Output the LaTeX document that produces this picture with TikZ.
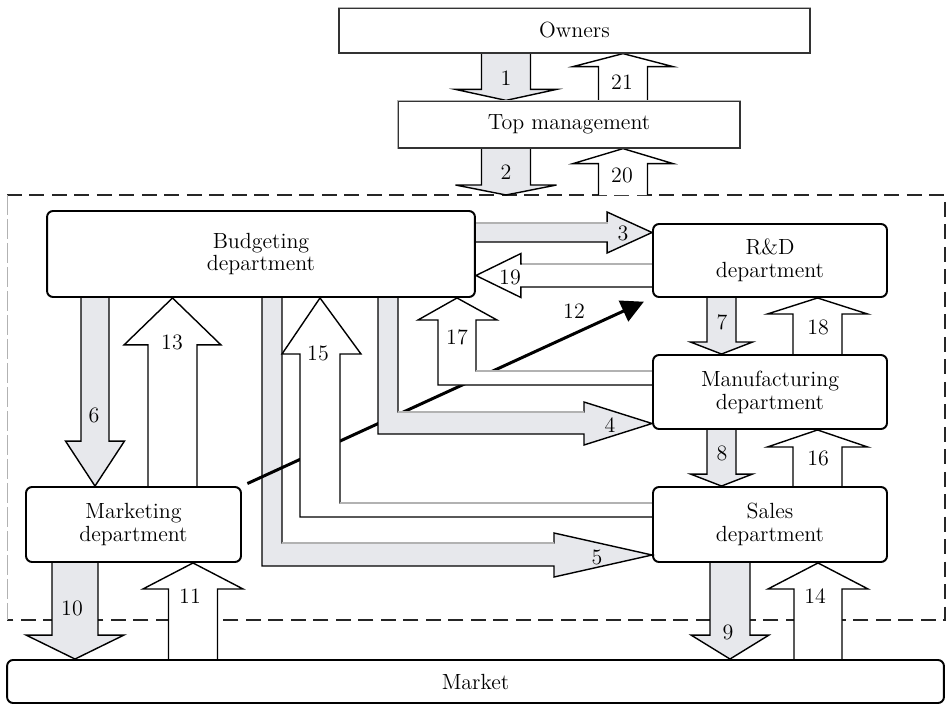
\documentclass[tikz,border=0pt]{standalone}
\usepackage{fontspec}
\usepackage{tikz}
\usetikzlibrary{calc, arrows.meta, positioning, backgrounds}

\definecolor{arrgray}{RGB}{231,232,236}
\newcommand{\diagfont}{\fontsize{12.5}{13}\selectfont}

\tikzstyle{plainbox} = [draw=black!80, line width=0.7pt, rectangle,
  inner sep=0pt, font=\diagfont]
\tikzstyle{deptbox} = [draw=black, line width=1.1pt, rectangle,
  rounded corners=1.2mm, align=center, inner sep=0pt, font=\diagfont]
\tikzstyle{downarr} = [draw=black, line width=0.8pt, fill=arrgray]
\tikzstyle{uparr} = [draw=black, line width=0.8pt, fill=white]
\tikzstyle{faint} = [draw=black!30, line width=0.8pt]
\tikzstyle{infoline} = [draw=black, line width=1.7pt,
  -{Triangle[length=0.45cm, width=0.45cm]}, shorten <=0.12cm, shorten >=0.18cm]
\tikzstyle{num} = [font=\diagfont, inner sep=0pt]

% block arrow: style, from, to, half shaft, half head, head length
\newcommand{\blockarrow}[6]{%
  \coordinate (ba) at ($(#3)!#6!(#2)$);
  \draw[#1] ($(#2)!#4!90:(#3)$) -- ($(ba)!#4!90:(#3)$) -- ($(ba)!#5!90:(#3)$)
    -- (#3) -- ($(ba)!#5!-90:(#3)$) -- ($(ba)!#4!-90:(#3)$) -- ($(#2)!#4!-90:(#3)$);
}

\begin{document}
\begin{tikzpicture}[x=0.02cm, y=-0.02cm]
  \useasboundingbox (0,0) rectangle (946,706);

  % boxes
  \node[plainbox, minimum width=9.42cm, minimum height=0.9cm] (own) at (574.5,30.5) {Owners};
  \node[plainbox, minimum width=6.84cm, minimum height=0.94cm] (top) at (569,124.5) {Top management};
  \node[deptbox, minimum width=8.56cm, minimum height=1.72cm] (bud) at (261,254) {Budgeting\\department};
  \node[deptbox, minimum width=4.68cm, minimum height=1.46cm] (rnd) at (770,260.5) {R\&D\\department};
  \node[deptbox, minimum width=4.68cm, minimum height=1.48cm] (man) at (770,392) {Manufacturing\\department};
  \node[deptbox, minimum width=4.68cm, minimum height=1.5cm] (sal) at (770,524.5) {Sales\\department};
  \node[deptbox, minimum width=4.3cm, minimum height=1.5cm] (mkt) at (133.5,524.5) {Marketing\\department};
  \node[deptbox, minimum width=18.74cm, minimum height=0.86cm] (mar) at (475.5,681.5) {Market};
  \coordinate (ftop) at (0,195);

  \draw[faint, line width=0.7pt] (own.north west) -- (own.north east);
  \draw[faint, line width=0.7pt] (top.south west) -- (top.north west) -- (top.north east);

  \begin{scope}[on background layer]
    % company border
    \draw[black!85, line width=1.1pt, dash pattern=on 0.3cm off 0.15cm]
      (7,195) -- (945,195) -- (945,620) -- (7,620);
    \draw[black!30, line width=0.4pt, dash pattern=on 0.4cm off 0.08cm] (7,195) -- (7,620);

    \blockarrow{downarr}{506,0 |- own.south}{506,0 |- top.north}{0.49cm}{1.01cm}{0.22cm}
    \blockarrow{uparr}{623,0 |- top.north}{623,0 |- own.south}{0.49cm}{1cm}{0.26cm}
    \blockarrow{downarr}{506,0 |- top.south}{506,0 |- ftop}{0.49cm}{1.01cm}{0.2cm}
    \blockarrow{uparr}{623,0 |- ftop}{623,0 |- top.south}{0.49cm}{1cm}{0.3cm}

    \blockarrow{downarr}{bud.east |- 0,232.5}{rnd.west |- 0,232.5}{0.19cm}{0.41cm}{0.9cm}
    \blockarrow{uparr}{rnd.west |- 0,275.5}{bud.east |- 0,275.5}{0.23cm}{0.44cm}{0.9cm}
    \draw[faint] (bud.east |- 0,223) -- (608,223);
    \draw[faint] (522,264) -- (rnd.west |- 0,264);

    \blockarrow{downarr}{95,0 |- bud.south}{95,0 |- mkt.north}{0.28cm}{0.59cm}{0.9cm}
    \blockarrow{uparr}{172.5,0 |- mkt.north}{172.5,0 |- bud.south}{0.49cm}{0.97cm}{0.94cm}
    \blockarrow{downarr}{721.5,0 |- rnd.south}{721.5,0 |- man.north}{0.29cm}{0.62cm}{0.24cm}
    \blockarrow{uparr}{817.5,0 |- man.north}{817.5,0 |- rnd.south}{0.49cm}{1cm}{0.32cm}
    \blockarrow{downarr}{721.5,0 |- man.south}{721.5,0 |- sal.north}{0.29cm}{0.62cm}{0.24cm}
    \blockarrow{uparr}{817.5,0 |- sal.north}{817.5,0 |- man.south}{0.49cm}{1cm}{0.34cm}

    \blockarrow{downarr}{75,0 |- mkt.south}{75,0 |- mar.north}{0.46cm}{0.98cm}{0.48cm}
    \blockarrow{uparr}{193,0 |- mar.north}{193,0 |- mkt.south}{0.49cm}{1cm}{0.52cm}
    \blockarrow{downarr}{730,0 |- sal.south}{730,0 |- mar.north}{0.4cm}{0.78cm}{0.48cm}
    \blockarrow{uparr}{818,0 |- mar.north}{818,0 |- sal.south}{0.48cm}{1cm}{0.52cm}

    % budgets to sales
    \draw[downarr] (262,0 |- bud.south) -- (262,566) -- (554,566) -- (554,577)
      -- (sal.west |- 0,555) -- (554,533) -- (554,543) -- (282,543) -- (282,0 |- bud.south);
    \draw[faint] (282,543) -- (554,543);

    \draw[infoline] (mkt.north east) -- (rnd.south west);

    % reports from sales
    \draw[uparr] (sal.west |- 0,517) -- (300,517) -- (300,354) -- (282,354)
      -- (320,0 |- bud.south) -- (361,354) -- (340,354) -- (340,503) -- (sal.west |- 0,503);
    \draw[faint] (340,503) -- (sal.west |- 0,503);

    % budgets to manufacturing
    \draw[downarr] (378,0 |- bud.south) -- (378,434) -- (584,434) -- (584,445)
      -- (man.west |- 0,423.5) -- (584,402) -- (584,412) -- (398,412) -- (398,0 |- bud.south);
    \draw[faint] (398,412) -- (584,412);

    % reports from manufacturing
    \draw[uparr] (man.west |- 0,385) -- (438,385) -- (438,320) -- (418,320)
      -- (457,0 |- bud.south) -- (497,320) -- (476,320) -- (476,371) -- (man.west |- 0,371);
    \draw[faint] (476,371) -- (man.west |- 0,371);
  \end{scope}

  % numbers
  \node[num] (n1) at (506,78) {1};
  \node[num] (n21) at (622,82) {21};
  \node[num] (n2) at (506,172) {2};
  \node[num] (n20) at (622,175) {20};
  \node[num] (n3) at (623,233) {3};
  \node[num] (n19) at (510,277) {19};
  \node[num] (n12) at (574,311) {12};
  \node[num] (n6) at (94,415) {6};
  \node[num] (n13) at (172,342) {13};
  \node[num] (n15) at (318,353) {15};
  \node[num] (n17) at (457,337) {17};
  \node[num] (n7) at (722,322) {7};
  \node[num] (n18) at (818,327) {18};
  \node[num] (n4) at (610,425) {4};
  \node[num] (n8) at (722,453) {8};
  \node[num] (n16) at (818,458) {16};
  \node[num] (n5) at (597,557) {5};
  \node[num] (n10) at (72,608) {10};
  \node[num] (n11) at (190,596) {11};
  \node[num] (n9) at (728,632) {9};
  \node[num] (n14) at (815,596) {14};
\end{tikzpicture}
\end{document}
